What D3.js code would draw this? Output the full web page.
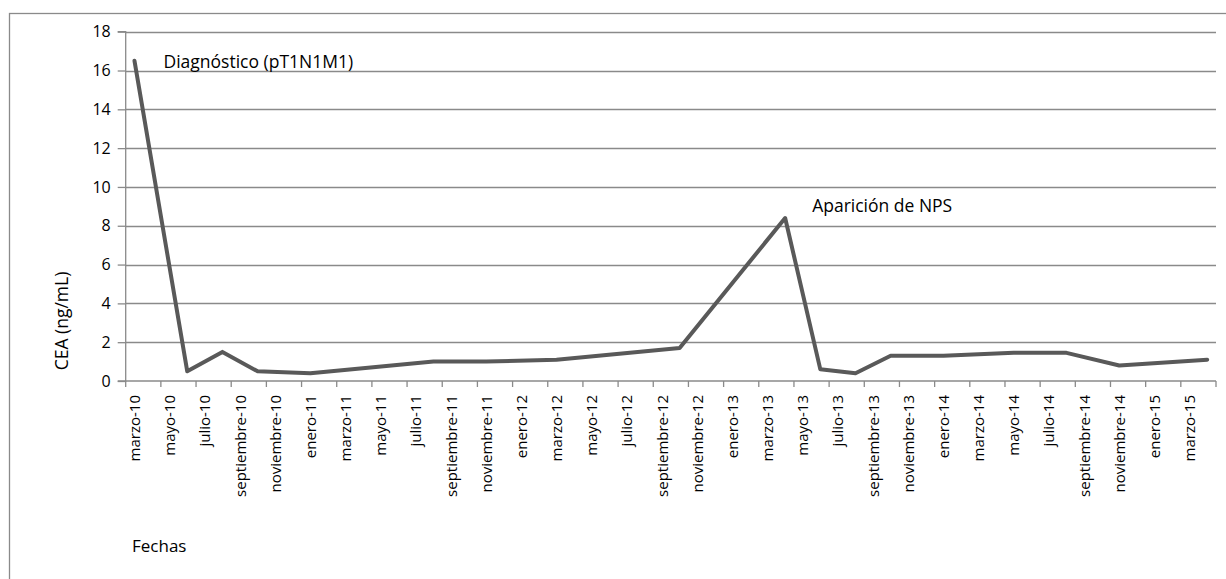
<!DOCTYPE html>
<html>
<head>
<meta charset="utf-8">
<script src="https://cdn.jsdelivr.net/npm/d3@7"></script>
<style>
body { margin: 0; background: #fff; }
text { font-family: "Open Sans", "Noto Sans", sans-serif; fill: #000; }
</style>
</head>
<body>
<script>
// month labels shown on the axis (every 2 months)
var tickLabels = ["marzo-10","mayo-10","julio-10","septiembre-10","noviembre-10",
  "enero-11","marzo-11","mayo-11","julio-11","septiembre-11","noviembre-11",
  "enero-12","marzo-12","mayo-12","julio-12","septiembre-12","noviembre-12",
  "enero-13","marzo-13","mayo-13","julio-13","septiembre-13","noviembre-13",
  "enero-14","marzo-14","mayo-14","julio-14","septiembre-14","noviembre-14",
  "enero-15","marzo-15"]

// measurement dates (year-month) and CEA values
var fechas = ["2010-03","2010-06","2010-08","2010-10","2011-01","2011-08","2011-11",
  "2012-03","2012-10","2013-04","2013-06","2013-08","2013-10","2014-01","2014-05",
  "2014-08","2014-11","2015-04"]
var cea = [16.5,0.5,1.5,0.5,0.4,1.0,1.0,1.1,1.7,8.4,0.6,0.4,1.3,1.3,1.45,1.45,0.8,1.1]

var yTicks = [0,2,4,6,8,10,12,14,16,18]

var notas = [
  {text: "Diagnóstico (pT1N1M1)", fecha: "2010-03", dx: 29, y: 16.45},
  {text: "Aparición de NPS", fecha: "2013-04", dx: 27, y: 9.0}
]

var W = 1226, H = 579
var pLeft = 125.7, pRight = 1216, pTop = 31.7, pBottom = 381

// months counted from march 2010
function monthIndex(s){
  var p = s.split("-")
  return (+p[0] - 2010) * 12 + (+p[1] - 3)
}

var nMonths = tickLabels.length * 2

var x = d3.scaleLinear().domain([0, nMonths]).range([pLeft, pRight])
var y = d3.scaleLinear().domain([0, 18]).range([pBottom, pTop])

var svg = d3.select("body").append("svg")
  .attr("width", W).attr("height", H)

// outer chart frame
svg.append("rect")
  .attr("x", 9.5).attr("y", 13.5)
  .attr("width", W + 20).attr("height", H + 20)
  .style("fill", "none").style("stroke", "#8a8a8a").style("stroke-width", 1.3)

// gridlines
svg.append("g").selectAll("line")
  .data(yTicks.filter(function(d){ return d > 0 }))
  .enter().append("line")
  .attr("x1", pLeft).attr("x2", pRight)
  .attr("y1", function(d){ return Math.round(y(d)) + 0.5 })
  .attr("y2", function(d){ return Math.round(y(d)) + 0.5 })
  .style("stroke", "#8a8a8a").style("stroke-width", 1.3)

// y axis
var yAxis = d3.axisLeft(y).tickValues(yTicks).tickSize(8).tickPadding(7)
var gy = svg.append("g").attr("transform", "translate(" + pLeft + ",0)").call(yAxis)
gy.selectAll("path,line").style("stroke", "#8a8a8a").style("stroke-width", 1.3)
gy.select(".domain").attr("d", "M-8," + pTop + "H0V" + pBottom + "H-8")
gy.selectAll("text").style("font-size", "16px").style("font-family", "\"Open Sans\", sans-serif").style("fill", "#000")

// x axis: ticks every 2 months, labels centred in the month slot
var tickIdx = d3.range(0, nMonths + 1, 2)
var gx = svg.append("g").attr("transform", "translate(0," + pBottom + ")")
gx.append("line").attr("x1", pLeft).attr("x2", pRight)
  .style("stroke", "#8a8a8a").style("stroke-width", 1.3)
gx.selectAll("line.tk").data(tickIdx).enter().append("line").attr("class", "tk")
  .attr("x1", function(d){ return x(d) }).attr("x2", function(d){ return x(d) })
  .attr("y1", 0).attr("y2", 6)
  .style("stroke", "#8a8a8a").style("stroke-width", 1.3)
gx.selectAll("text").data(tickLabels).enter().append("text")
  .attr("transform", function(d, i){
    return "translate(" + (x(i * 2 + 0.5) + 5.5) + ",14) rotate(-90)"
  })
  .attr("text-anchor", "end")
  .style("font-size", "15px")
  .text(function(d){ return d })

// the CEA line
var puntos = fechas.map(function(f, i){ return {m: monthIndex(f), v: cea[i]} })
var line = d3.line()
  .x(function(d){ return x(d.m + 0.5) })
  .y(function(d){ return y(d.v) })
svg.append("path").datum(puntos)
  .attr("d", line)
  .style("fill", "none").style("stroke", "#595959")
  .style("stroke-width", 4).style("stroke-linejoin", "round").style("stroke-linecap", "round")

// annotations
svg.selectAll("text.nota").data(notas).enter().append("text").attr("class", "nota")
  .attr("x", function(d){ return x(monthIndex(d.fecha) + 0.5) + d.dx })
  .attr("y", function(d){ return y(d.y) })
  .attr("dy", "0.35em")
  .style("font-size", "17.5px")
  .text(function(d){ return d.text })

// axis titles
svg.append("text")
  .attr("transform", "translate(68,321) rotate(-90)")
  .attr("text-anchor", "middle")
  .style("font-size", "17.5px")
  .text("CEA (ng/mL)")

svg.append("text")
  .attr("x", 132).attr("y", 552)
  .style("font-size", "17px")
  .text("Fechas")
</script>
</body>
</html>
